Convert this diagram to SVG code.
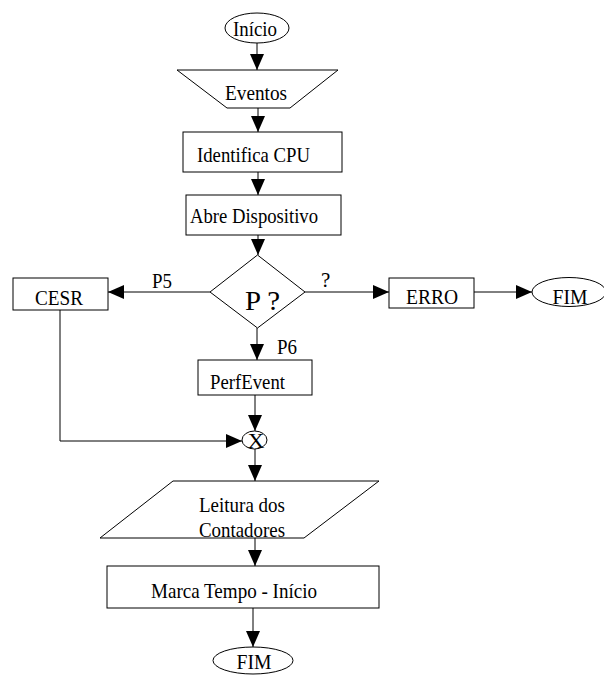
<svg xmlns="http://www.w3.org/2000/svg" width="604" height="675" viewBox="0 0 604 675">
  <style>
    .shape { fill: #ffffff; stroke: #000000; stroke-width: 1; }
    .edge { fill: none; stroke: #000000; stroke-width: 1; }
    text { font-family: "Liberation Serif", "Times New Roman", serif; font-size: 21px; fill: #000000; }
    .mid { text-anchor: middle; }
  </style>
  <defs>
    <marker id="arrow" viewBox="0 0 16 14" markerWidth="16" markerHeight="14" refX="16" refY="7" orient="auto" markerUnits="userSpaceOnUse">
      <path d="M0,0 L16,7 L0,14 z" fill="#000000"/>
    </marker>
  </defs>
  <rect width="604" height="675" fill="#ffffff"/>

  <!-- connectors -->
  <g id="connectors">
    <line class="edge" x1="257" y1="43" x2="257" y2="70" marker-end="url(#arrow)"/>
    <line class="edge" x1="258" y1="108" x2="258" y2="132" marker-end="url(#arrow)"/>
    <line class="edge" x1="258" y1="172" x2="258" y2="195" marker-end="url(#arrow)"/>
    <line class="edge" x1="258" y1="235" x2="258" y2="255" marker-end="url(#arrow)"/>
    <line class="edge" x1="210" y1="292" x2="108" y2="292" marker-end="url(#arrow)"/>
    <line class="edge" x1="305" y1="292" x2="389" y2="292" marker-end="url(#arrow)"/>
    <line class="edge" x1="474" y1="292" x2="532" y2="292" marker-end="url(#arrow)"/>
    <line class="edge" x1="257" y1="328" x2="257" y2="360" marker-end="url(#arrow)"/>
    <line class="edge" x1="255" y1="395" x2="255" y2="431" marker-end="url(#arrow)"/>
    <path class="edge" d="M60,310 V441 H242" marker-end="url(#arrow)"/>
    <line class="edge" x1="255" y1="449" x2="255" y2="481" marker-end="url(#arrow)"/>
    <line class="edge" x1="255" y1="538" x2="255" y2="566" marker-end="url(#arrow)"/>
    <line class="edge" x1="253" y1="608" x2="253" y2="647" marker-end="url(#arrow)"/>
    <text x="152" y="288" textLength="20" lengthAdjust="spacingAndGlyphs">P5</text>
    <text x="321" y="287">?</text>
    <text x="277" y="354" textLength="20" lengthAdjust="spacingAndGlyphs">P6</text>
  </g>

  <g id="inicio">
    <ellipse class="shape" cx="257" cy="28" rx="32" ry="15"/>
    <text class="mid" x="255" y="36" textLength="44" lengthAdjust="spacingAndGlyphs">Início</text>
  </g>

  <g id="eventos">
    <polygon class="shape" points="177,70 338,70 290,108 227,108"/>
    <text class="mid" x="256" y="100" textLength="62" lengthAdjust="spacingAndGlyphs">Eventos</text>
  </g>

  <g id="identifica-cpu">
    <rect class="shape" x="183" y="132" width="159" height="40"/>
    <text x="197" y="162" textLength="113" lengthAdjust="spacingAndGlyphs">Identifica CPU</text>
  </g>

  <g id="abre-dispositivo">
    <rect class="shape" x="186" y="195" width="155" height="40"/>
    <text x="190" y="223" textLength="128" lengthAdjust="spacingAndGlyphs">Abre Dispositivo</text>
  </g>

  <g id="decisao">
    <polygon class="shape" points="257.5,255 305,292 257.5,328 210,292"/>
    <text x="245" y="310" style="font-size:28px" textLength="35" lengthAdjust="spacingAndGlyphs">P ?</text>
  </g>

  <g id="cesr">
    <rect class="shape" x="13" y="278" width="95" height="32"/>
    <text class="mid" x="59" y="305" textLength="48" lengthAdjust="spacingAndGlyphs">CESR</text>
  </g>

  <g id="erro">
    <rect class="shape" x="389" y="278" width="85" height="30"/>
    <text class="mid" x="432" y="304" textLength="52" lengthAdjust="spacingAndGlyphs">ERRO</text>
  </g>

  <g id="fim-erro">
    <ellipse class="shape" cx="569" cy="292" rx="37" ry="14.5"/>
    <text class="mid" x="570" y="304" textLength="35" lengthAdjust="spacingAndGlyphs">FIM</text>
  </g>

  <g id="perfevent">
    <rect class="shape" x="198" y="360" width="114" height="35"/>
    <text x="210" y="389" textLength="75" lengthAdjust="spacingAndGlyphs">PerfEvent</text>
  </g>

  <g id="juncao">
    <ellipse class="shape" cx="254.5" cy="440" rx="12.5" ry="9"/>
    <text class="mid" x="256" y="448" textLength="17" lengthAdjust="spacingAndGlyphs">X</text>
  </g>

  <g id="leitura-contadores">
    <polygon class="shape" points="173,481 379,481 304,538 100,538"/>
    <text x="199" y="512" textLength="86" lengthAdjust="spacingAndGlyphs">Leitura dos</text>
    <text x="199" y="537" textLength="86" lengthAdjust="spacingAndGlyphs">Contadores</text>
  </g>

  <g id="marca-tempo">
    <rect class="shape" x="107" y="566" width="272" height="42"/>
    <text x="151" y="598" textLength="166" lengthAdjust="spacingAndGlyphs">Marca Tempo - Início</text>
  </g>

  <g id="fim">
    <ellipse class="shape" cx="253" cy="660.5" rx="40" ry="13.5"/>
    <text class="mid" x="254" y="669" textLength="35" lengthAdjust="spacingAndGlyphs">FIM</text>
  </g>
</svg>
